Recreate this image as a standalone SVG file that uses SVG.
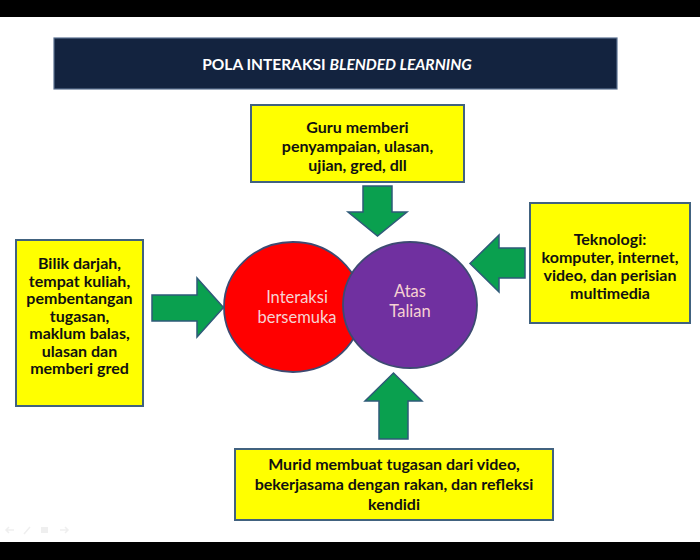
<svg xmlns="http://www.w3.org/2000/svg" width="700" height="560" viewBox="0 0 700 560">
<defs>
<style>
.bar{fill:#000000}
.box{fill:#ffff00;stroke:#41627f;stroke-width:2}
.arrow{fill:#0aa04f;stroke:#2e5a78;stroke-width:1.5;stroke-linejoin:miter}
.bt{font-family:Lato,"Open Sans","Liberation Sans",sans-serif;font-weight:bold;font-size:16px;fill:#111111;text-anchor:middle}
.ct{font-family:Lato,"Open Sans","Liberation Sans",sans-serif;font-size:16.5px;fill:#f6d2d2;text-anchor:middle}
.icon{fill:none;stroke:#efefef;stroke-width:1.5}
</style>
</defs>
<rect width="700" height="560" fill="#ffffff"/>
<rect class="bar" x="0" y="0" width="700" height="17"/>
<rect class="bar" x="0" y="542" width="700" height="18"/>

<g id="title">
<rect x="54" y="38" width="563" height="51" fill="#13233f" stroke="#5a7090" stroke-width="1.2"/>
<text x="337" y="70" font-family="Lato,'Open Sans','Liberation Sans',sans-serif" font-weight="bold" font-size="15.5" fill="#ffffff" text-anchor="middle">POLA INTERAKSI <tspan font-style="italic">BLENDED LEARNING</tspan></text>
</g>

<g id="node-guru">
<rect class="box" x="251" y="105" width="213" height="77"/>
<text class="bt" x="357.5" y="133">Guru memberi</text>
<text class="bt" x="357.5" y="152">penyampaian, ulasan,</text>
<text class="bt" x="357.5" y="171">ujian, gred, dll</text>
</g>

<g id="node-bilik">
<rect class="box" x="16" y="240" width="127" height="166"/>
<text class="bt" x="79.5" y="269" font-size="15.8">Bilik darjah,</text>
<text class="bt" x="79.5" y="286.5" font-size="15.8">tempat kuliah,</text>
<text class="bt" x="79.5" y="304" font-size="15.8">pembentangan</text>
<text class="bt" x="79.5" y="321.5" font-size="15.8">tugasan,</text>
<text class="bt" x="79.5" y="339" font-size="15.8">maklum balas,</text>
<text class="bt" x="79.5" y="356.5" font-size="15.8">ulasan dan</text>
<text class="bt" x="79.5" y="374" font-size="15.8">memberi gred</text>
</g>

<g id="node-teknologi">
<rect class="box" x="530" y="203" width="160" height="120"/>
<text class="bt" x="610" y="245" font-size="16.8">Teknologi:</text>
<text class="bt" x="610" y="263" font-size="16.8">komputer, internet,</text>
<text class="bt" x="610" y="281" font-size="16.8">video, dan perisian</text>
<text class="bt" x="610" y="299" font-size="16.8">multimedia</text>
</g>

<g id="node-murid">
<rect class="box" x="235" y="449" width="318" height="71"/>
<text class="bt" x="394" y="470" font-size="16.5">Murid membuat tugasan dari video,</text>
<text class="bt" x="394" y="490" font-size="16.5">bekerjasama dengan rakan, dan refleksi</text>
<text class="bt" x="394" y="510" font-size="16.5">kendidi</text>
</g>

<g id="node-bersemuka">
<ellipse cx="293" cy="307" rx="69" ry="65" fill="#ff0000" stroke="#3d4a72" stroke-width="1.8"/>
<text class="ct" x="297" y="303">Interaksi</text>
<text class="ct" x="297" y="323">bersemuka</text>
</g>

<g id="node-talian">
<ellipse cx="410" cy="305" rx="67" ry="63" fill="#7030a0" stroke="#3d4a72" stroke-width="1.8"/>
<text class="ct" x="410" y="297">Atas</text>
<text class="ct" x="410" y="317">Talian</text>
</g>

<g id="connectors">
<polygon class="arrow" points="363,186 392,186 392,212 407,212 377.5,236 348,212 363,212"/>
<polygon class="arrow" points="152,295 197,295 197,278 223.5,307.5 197,337 197,321 152,321"/>
<polygon class="arrow" points="525,248 499,248 499,235 470,263.5 499,292 499,278 525,278"/>
<polygon class="arrow" points="379,439 408,439 408,401 422,401 393.5,373 365,401 379,401"/>
</g>

<g id="controls">
<path class="icon" d="M6,530 L14,530 M9,527 L6,530 L9,533"/>
<path class="icon" d="M24,534 L30,527"/>
<rect x="41" y="527" width="7" height="6" fill="#efefef"/>
<path class="icon" d="M60,530 L68,530 M65,527 L68,530 L65,533"/>
</g>
</svg>
